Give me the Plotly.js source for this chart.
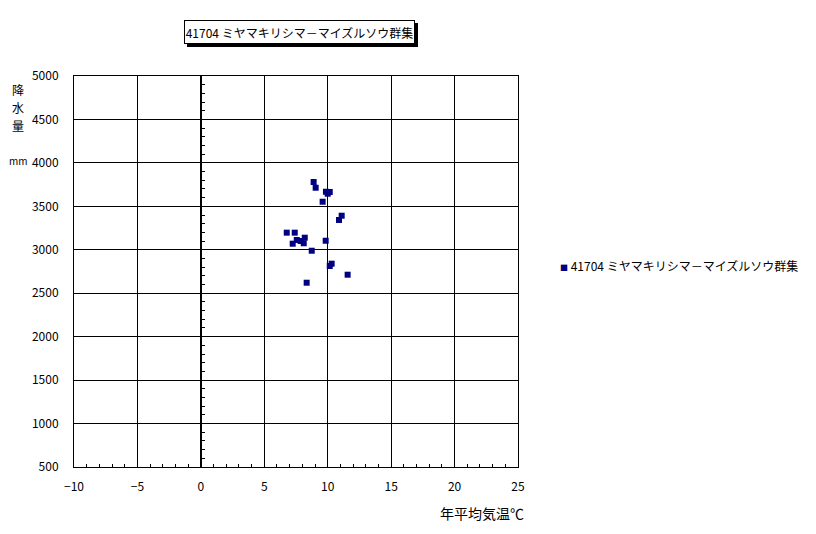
<!DOCTYPE html>
<html>
<head>
<meta charset="utf-8">
<script src="https://cdn.plot.ly/plotly-3.0.1.min.js"></script>
<style>html,body{margin:0;padding:0;background:#fff;}</style>
</head>
<body>
<div id="chart" style="width:816px;height:534px;"></div>
<script>
const seriesName = "41704 ミヤマキリシマ－マイズルソウ群集";
const chartTitle = "41704 ミヤマキリシマ－マイズルソウ群集";
const xTitle = "年平均気温℃";
const yTitleChars = ["降", "水", "量"];
const yUnit = "mm";
const temperature = [8.89, 9.05, 9.86, 10.16, 10.0, 9.60, 11.10, 10.89, 6.77, 7.40, 7.56, 7.87, 8.19, 8.11, 7.24, 9.84, 8.74, 10.31, 10.16, 11.57, 8.34];
const precipitation = [3780, 3714, 3668, 3665, 3645, 3553, 3392, 3343, 3197, 3197, 3113, 3101, 3139, 3075, 3070, 3104, 2989, 2840, 2813, 2713, 2621];
const xRange = [-10, 25];
const yRange = [500, 5000];

const FONT = '"Noto Sans CJK JP", "DejaVu Sans", sans-serif';
const NAVY = '#000080';

const traces = [
  {
    type: 'scatter', mode: 'markers', name: seriesName,
    x: temperature, y: precipitation,
    marker: {symbol: 'square', size: 6, color: NAVY, line: {width: 0}},
    showlegend: false, hoverinfo: 'x+y'
  },
  {
    type: 'scatter', mode: 'markers', x: [], y: [], xaxis: 'x', yaxis: 'y2',
    showlegend: false, hoverinfo: 'skip'
  }
];

const px2x = p => (p - 74) / 444;
const px2y = p => (467 - p) / 391;
const zeroPos = px2x(200.5);

const annotations = [
  {
    xref: 'paper', yref: 'paper', x: px2x(299.5), y: px2y(32),
    xanchor: 'center', yanchor: 'middle', xshift: 3, yshift: -3,
    text: '\u00a0', showarrow: false, width: 229, height: 22,
    font: {family: FONT, size: 12, color: '#000'},
    bgcolor: '#000', bordercolor: '#000', borderwidth: 1, borderpad: 0
  },
  {
    xref: 'paper', yref: 'paper', x: px2x(299.5), y: px2y(32),
    xanchor: 'center', yanchor: 'middle',
    text: chartTitle, showarrow: false, width: 229, height: 22,
    font: {family: FONT, size: 12, color: '#000'},
    bgcolor: '#fff', bordercolor: '#000', borderwidth: 1, borderpad: 0
  },
  {
    xref: 'paper', yref: 'paper', x: px2x(558), y: px2y(265),
    xanchor: 'left', yanchor: 'middle', showarrow: false,
    text: '<span style="color:' + NAVY + ';font-size:8px">■</span> ' + seriesName,
    font: {family: FONT, size: 12, color: '#000'}
  },
  {
    xref: 'paper', yref: 'paper', x: px2x(526), y: px2y(513),
    xanchor: 'right', yanchor: 'middle', showarrow: false,
    text: xTitle, font: {family: FONT, size: 14, color: '#000'}
  },
  {
    xref: 'paper', yref: 'paper', x: px2x(18), y: px2y(160),
    xanchor: 'center', yanchor: 'middle', showarrow: false,
    text: yUnit, font: {family: FONT, size: 10, color: '#000'}
  }
];
const yCharCenters = [90, 107.5, 125];
yTitleChars.forEach((c, i) => {
  annotations.push({
    xref: 'paper', yref: 'paper', x: px2x(18), y: px2y(yCharCenters[i]),
    xanchor: 'center', yanchor: 'middle', showarrow: false,
    text: c, font: {family: FONT, size: 12, color: '#000'}
  });
});

const layout = {
  width: 816, height: 534,
  margin: {l: 74, r: 298, t: 76, b: 67, pad: 0},
  paper_bgcolor: '#fff', plot_bgcolor: '#fff',
  font: {family: FONT, size: 12, color: '#000'},
  showlegend: false,
  xaxis: {
    range: xRange, tick0: 0, dtick: 5, showgrid: true, gridcolor: '#000', gridwidth: 1,
    zeroline: true, zerolinecolor: '#000', zerolinewidth: 1,
    showline: true, linecolor: '#000', linewidth: 1, mirror: true,
    ticks: 'inside', ticklen: 3, tickcolor: '#000', ticklabelstandoff: 9,
    minor: {dtick: 1, tick0: 0, ticks: 'inside', ticklen: 3, tickcolor: '#000', showgrid: false},
    tickfont: {family: FONT, size: 12, color: '#000'}, fixedrange: true
  },
  yaxis: {
    range: yRange, tick0: 0, dtick: 500, showgrid: true, gridcolor: '#000', gridwidth: 1,
    zeroline: false, showline: true, linecolor: '#000', linewidth: 1, mirror: true,
    ticks: '', ticklabelstandoff: 12,
    tickfont: {family: FONT, size: 12, color: '#000'}, fixedrange: true
  },
  yaxis2: {
    overlaying: 'y', anchor: 'free', position: zeroPos, side: 'left',
    range: yRange, tick0: 0, dtick: 500, showgrid: false, zeroline: false,
    showline: true, linecolor: '#000', linewidth: 1, showticklabels: false,
    ticks: 'inside', ticklen: 3, tickcolor: '#000',
    minor: {dtick: 100, tick0: 0, ticks: 'inside', ticklen: 3, tickcolor: '#000', showgrid: false},
    fixedrange: true
  },
  annotations: annotations
};

Plotly.newPlot('chart', traces, layout, {displayModeBar: false, staticPlot: true});
</script>
</body>
</html>
